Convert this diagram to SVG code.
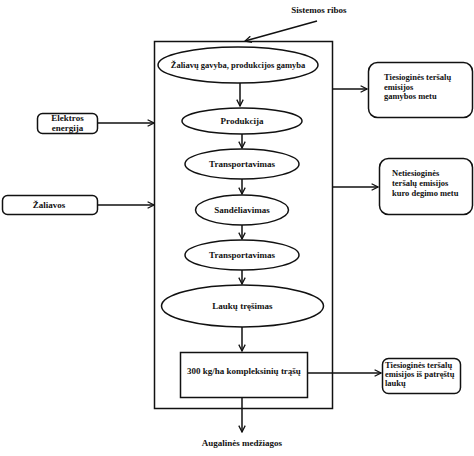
<svg xmlns="http://www.w3.org/2000/svg" width="474" height="456" viewBox="0 0 474 456">
<style>
text{font-family:"Liberation Serif","Times New Roman",serif;font-weight:bold;font-size:9px;fill:#111}
.c{text-anchor:middle}
.r{font-size:8.5px}
.s{fill:#fff;stroke:#111;stroke-width:1.5}
.l{fill:none;stroke:#111;stroke-width:1.5}
</style>
<defs>
<marker id="a" viewBox="0 0 10 10" refX="9" refY="5" markerWidth="8" markerHeight="8" markerUnits="userSpaceOnUse" orient="auto">
<polyline points="1,1 9,5 1,9" fill="none" stroke="#111" stroke-width="1.6"/>
</marker>
</defs>
<rect width="474" height="456" fill="#fff"/>
<g id="system-boundary">
<rect x="154.5" y="41.5" width="178" height="367" class="s"/>
<text x="319" y="13" class="c">Sistemos ribos</text>
</g>
<g id="connectors">
<line x1="317" y1="21" x2="245" y2="41" class="l" marker-end="url(#a)"/>
<line x1="240" y1="83" x2="240" y2="106" class="l" marker-end="url(#a)"/>
<line x1="242" y1="134" x2="242" y2="148" class="l" marker-end="url(#a)"/>
<line x1="242" y1="179" x2="242" y2="194" class="l" marker-end="url(#a)"/>
<line x1="242" y1="225" x2="242" y2="239" class="l" marker-end="url(#a)"/>
<line x1="242" y1="270" x2="242" y2="284" class="l" marker-end="url(#a)"/>
<line x1="242" y1="327" x2="242" y2="351" class="l" marker-end="url(#a)"/>
<line x1="242" y1="398" x2="242" y2="432" class="l" marker-end="url(#a)"/>
<line x1="98" y1="123" x2="154" y2="123" class="l" marker-end="url(#a)"/>
<line x1="98" y1="205" x2="154" y2="205" class="l" marker-end="url(#a)"/>
<line x1="333" y1="89" x2="367" y2="89" class="l" marker-end="url(#a)"/>
<line x1="333" y1="187" x2="378" y2="187" class="l" marker-end="url(#a)"/>
<line x1="308" y1="373" x2="381" y2="373" class="l" marker-end="url(#a)"/>
</g>
<g id="n1"><ellipse cx="238" cy="65" rx="80" ry="18" class="s"/><text x="238" y="68" class="c r">Žaliavų gavyba, produkcijos gamyba</text></g>
<g id="n2"><ellipse cx="242" cy="121" rx="60" ry="13" class="s"/><text x="242" y="124" class="c">Produkcija</text></g>
<g id="n3"><ellipse cx="242" cy="164" rx="57" ry="15" class="s"/><text x="242" y="167" class="c">Transportavimas</text></g>
<g id="n4"><ellipse cx="242" cy="210" rx="46.5" ry="15" class="s"/><text x="242" y="213" class="c">Sandėliavimas</text></g>
<g id="n5"><ellipse cx="242" cy="255" rx="57" ry="15" class="s"/><text x="242" y="258" class="c">Transportavimas</text></g>
<g id="n6"><ellipse cx="242.5" cy="306" rx="81" ry="21" class="s"/><text x="242.5" y="309" class="c">Laukų tręšimas</text></g>
<g id="n7"><rect x="180.5" y="352.5" width="127" height="45" class="s"/><text x="244" y="374" class="c">300 kg/ha kompleksinių trąšų</text></g>
<g id="out"><text x="242" y="446" class="c">Augalinės medžiagos</text></g>
<g id="in1"><rect x="37.5" y="113.5" width="60" height="20" rx="5" class="s"/><text x="67.5" y="121" class="c">Elektros</text><text x="67.5" y="131" class="c">energija</text></g>
<g id="in2"><rect x="2.5" y="195.5" width="95" height="19" rx="5" class="s"/><text x="49" y="208" class="c">Žaliavos</text></g>
<g id="e1"><rect x="368.5" y="62.5" width="104" height="55" rx="9" class="s"/><text x="384" y="80" class="r">Tiesioginės teršalų</text><text x="384" y="89.5" class="r">emisijos</text><text x="384" y="99" class="r">gamybos metu</text></g>
<g id="e2"><rect x="379.5" y="158.5" width="93" height="56" rx="9" class="s"/><text x="392" y="176" class="r">Netiesioginės</text><text x="392" y="186" class="r">teršalų emisijos</text><text x="392" y="196" class="r">kuro degimo metu</text></g>
<g id="e3"><rect x="382.5" y="358.5" width="78" height="35" rx="6" class="s"/><text x="385" y="368" class="r">Tiesioginės teršalų</text><text x="385" y="377" class="r">emisijos iš patręštų</text><text x="385" y="386" class="r">laukų</text></g>
</svg>
